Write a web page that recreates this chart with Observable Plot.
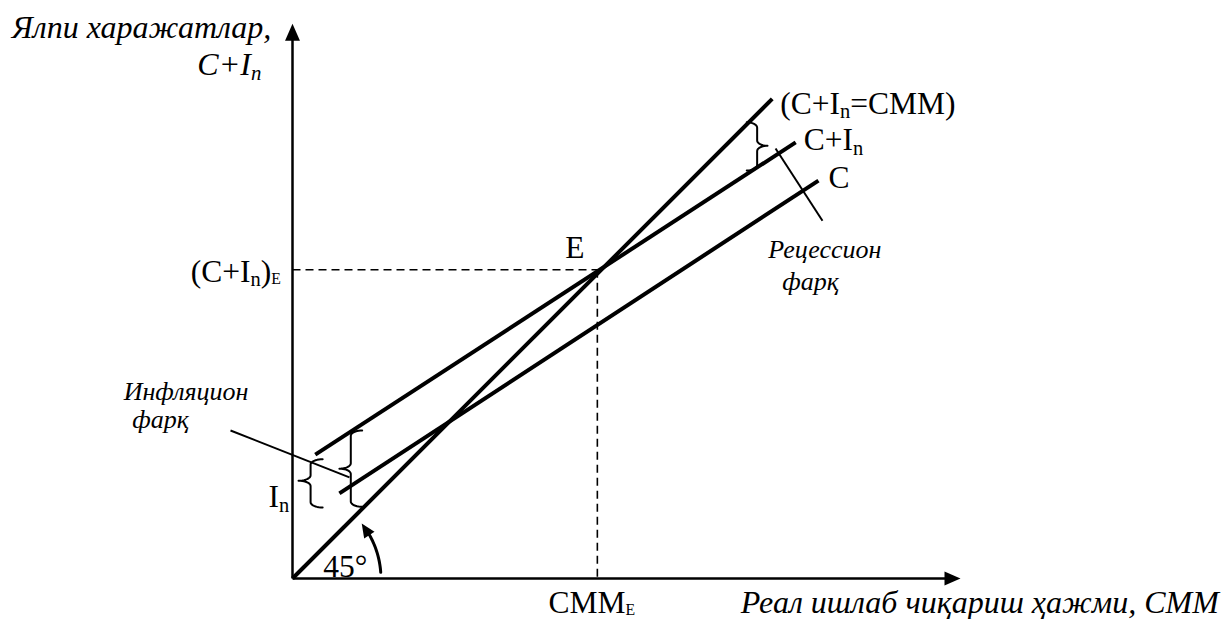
<!DOCTYPE html>
<html><head><meta charset="utf-8">
<script src="https://cdn.jsdelivr.net/npm/d3@7"></script>
<script src="https://cdn.jsdelivr.net/npm/@observablehq/plot@0.6"></script>
<style>html,body{margin:0;padding:0;background:#fff} svg{display:block}</style>
</head><body><div id="chart"></div>
<script>
// ---- data (in chart units) ----
const curveNames = ["(C+I_{n}=CMM)", "C+I_{n}", "C"];
const curveX1 = [0, 3.4, 7.0];
const curveY1 = [0, 18.5, 12.7];
const curveX2 = [71.6, 75.1, 78.5];
const curveY2 = [71.6, 65.1, 59.4];
const eqOutput = 45.5;     // CMM_E
const eqSpending = 46.1;   // (C+I_n)_E
const tickLabelsX = ["CMM_{E}"];
const tickLabelsY = ["(C+I_{n})_{E}", "I_{n}"];
const axisTitles = ["Ялпи харажатлар,", "C+I_{n}", "Реал ишлаб чиқариш ҳажми, CMM"];
const gapLabels = ["Инфляцион", "фарқ", "Рецессион", "фарқ"];
const angleLabel = "45°";
const pointLabel = "E";

const curves = curveNames.map((name, i) => ({name, x1: curveX1[i], y1: curveY1[i], x2: curveX2[i], y2: curveY2[i]}));

const SERIF = "'Liberation Serif', 'Times New Roman', serif";
const FS = 31.5, FST = 32, FSI = 26;

// brace path generator (annotation shape)
function brace(id, xe, xt, yTop, yBot, yMid, ry = 0.8) {
  const xv = (xe + xt) / 2, a1 = xe - xv, a2 = xv - xt, pts = [];
  const N = 10;
  for (let k = 0; k <= N; k++) { const t = k / N * Math.PI / 2; pts.push({id, x: xe - a1 * Math.sin(t), y: yTop - ry + ry * Math.cos(t)}); }
  for (let k = 0; k <= N; k++) { const t = k / N * Math.PI / 2; pts.push({id, x: xt + a2 * Math.cos(t), y: yMid + ry - ry * Math.sin(t)}); }
  for (let k = 0; k <= N; k++) { const t = k / N * Math.PI / 2; pts.push({id, x: xt + a2 * Math.sin(t), y: yMid - ry + ry * Math.cos(t)}); }
  for (let k = 0; k <= N; k++) { const t = k / N * Math.PI / 2; pts.push({id, x: xe - a1 * Math.cos(t), y: yBot + ry - ry * Math.sin(t)}); }
  return pts;
}
const braces = [
  ...brace("in", 4.5, 0.9, 17.8, 10.6, 14.6),
  ...brace("infl", 10.4, 7.0, 22.1, 10.7, 16.4),
  ...brace("rec", 67.8, 70.9, 68.1, 60.9, 64.6)
];

// 45° arc
const arcR = 13.2;
const arc = d3.range(4, 34, 1).map(a => ({x: arcR * Math.cos(a * Math.PI / 180), y: arcR * Math.sin(a * Math.PI / 180)}));
const arcTipA = 38.5;

const arrowSym = {draw(ctx, size) { const h = Math.sqrt(size / Math.PI), w = h * 0.44; ctx.moveTo(0, 0); ctx.lineTo(-w, h); ctx.lineTo(w, h); ctx.closePath(); }};

const lbl = (t, x, y, o = {}) => Plot.text([t], {x, y, text: d => d, textAnchor: "start", lineAnchor: "bottom", fontFamily: SERIF, fontSize: FS, fill: "black", ...o});

const chart = Plot.plot({
  width: 1222, height: 619,
  marginLeft: 292, marginRight: 260, marginTop: 22, marginBottom: 41,
  x: {domain: [0, 100], axis: null},
  y: {domain: [0, 83], axis: null},
  style: {background: "white", overflow: "visible"},
  marks: [
    // dashed equilibrium guides
    Plot.link([0], {x1: 0, y1: eqSpending, x2: eqOutput, y2: eqSpending, stroke: "black", strokeWidth: 1.6, strokeDasharray: "8,5"}),
    Plot.link([0], {x1: eqOutput, y1: eqSpending, x2: eqOutput, y2: 0, stroke: "black", strokeWidth: 1.6, strokeDasharray: "8,5"}),
    // axes
    Plot.link([0], {x1: 0, y1: 0, x2: 98.5, y2: 0, stroke: "black", strokeWidth: 2.5}),
    Plot.link([0], {x1: 0, y1: 0, x2: 0, y2: 81.5, stroke: "black", strokeWidth: 2.5}),
    Plot.dot([0], {x: 99.7, y: 0, symbol: arrowSym, r: 16, fill: "black", rotate: 90}),
    Plot.dot([0], {x: 0, y: 82.8, symbol: arrowSym, r: 17, fill: "black"}),
    // curves
    Plot.link(curves, {x1: "x1", y1: "y1", x2: "x2", y2: "y2", stroke: "black", strokeWidth: 4}),
    // leaders
    Plot.link([0], {x1: -9.25, y1: 22.1, x2: 8.5, y2: 15.1, stroke: "black", strokeWidth: 2}),
    Plot.link([0], {x1: 72.1, y1: 64.2, x2: 79.1, y2: 53.4, stroke: "black", strokeWidth: 2}),
    // braces
    Plot.line(braces, {x: "x", y: "y", z: "id", stroke: "black", strokeWidth: 2, curve: "linear"}),
    // 45 degree arc arrow
    Plot.line(arc, {x: "x", y: "y", stroke: "black", strokeWidth: 3}),
    Plot.dot([0], {x: arcR * Math.cos(arcTipA * Math.PI / 180), y: arcR * Math.sin(arcTipA * Math.PI / 180), symbol: arrowSym, r: 14, fill: "black", rotate: -33}),
    // labels
    lbl(axisTitles[0], -41.9, 80.7, {fontStyle: "italic", fontSize: FST}),
    lbl(axisTitles[1], -14.2, 75.1, {fontStyle: "italic", fontSize: FST}),
    lbl(axisTitles[2], 66.9, -5.1, {fontStyle: "italic", fontSize: FST}),
    lbl(curveNames[0], 72.8, 69.4),
    lbl(curveNames[1], 76.3, 63.9),
    lbl(curveNames[2], 80.0, 58.3),
    lbl(gapLabels[2], 71.0, 47.8, {fontStyle: "italic", fontSize: FSI}),
    lbl(gapLabels[3], 73.1, 43.0, {fontStyle: "italic", fontSize: FSI}),
    lbl(gapLabels[0], -25.2, 26.6, {fontStyle: "italic", fontSize: FSI}),
    lbl(gapLabels[1], -23.9, 22.4, {fontStyle: "italic", fontSize: FSI}),
    lbl(pointLabel, 40.7, 47.8),
    lbl(tickLabelsY[0], -15.2, 44.3),
    lbl(tickLabelsY[1], -3.6, 10.6),
    lbl(angleLabel, 4.6, 0.15),
    lbl(tickLabelsX[0], 38.2, -5.2)
  ]
});

document.getElementById("chart").append(chart);

// render subscripts as tspans
chart.querySelectorAll("text").forEach(t => {
  const s = t.textContent;
  if (!s.includes("_{")) return;
  const fs = parseFloat(getComputedStyle(t).fontSize);
  const parts = s.split(/(_\{[^}]*\})/).filter(p => p !== "");
  t.textContent = "";
  let shifted = 0;
  for (const p of parts) {
    const ts = document.createElementNS("http://www.w3.org/2000/svg", "tspan");
    if (p.startsWith("_{")) {
      const c = p.slice(2, -1);
      const ratio = c === "E" ? 0.5 : 0.65;
      const shift = (c === "E" ? 0.06 : 0.14) * fs;
      ts.setAttribute("font-size", ratio * fs);
      ts.setAttribute("dy", shift - shifted);
      shifted = shift;
      ts.textContent = c;
    } else {
      if (shifted) { ts.setAttribute("dy", -shifted); shifted = 0; }
      ts.textContent = p;
    }
    t.append(ts);
  }
});
</script>
</body></html>
